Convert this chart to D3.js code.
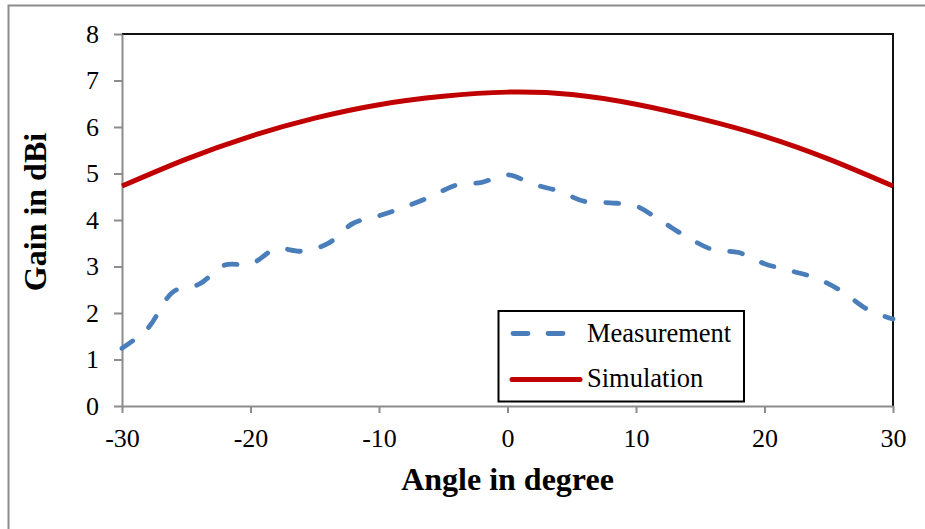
<!DOCTYPE html>
<html>
<head>
<meta charset="utf-8">
<script src="https://cdn.jsdelivr.net/npm/d3@7"></script>
<style>
body{margin:0;background:#fff}
text{font-family:"Liberation Serif","Times New Roman",serif;fill:#000}
</style>
</head>
<body>
<script>
const w=925
const h=529

// data
const angles=[-30,-28,-26,-24,-22,-20,-18,-16,-14,-12,-10,-8,-6,-4,-2,0,2,4,6,8,10,12,14,16,18,20,22,24,26,28,30]
const measurement=[1.24,1.67,2.46,2.62,3.03,3.05,3.38,3.33,3.49,3.93,4.09,4.28,4.50,4.75,4.81,4.97,4.77,4.62,4.40,4.37,4.30,3.97,3.63,3.36,3.30,3.06,2.91,2.75,2.47,2.08,1.87]
const simAngles=[-30,-25,-20,-15,-10,-5,0,5,10,15,20,25,30]
const simulation=[4.73,5.31,5.80,6.19,6.48,6.66,6.75,6.70,6.49,6.18,5.80,5.31,4.73]
const yTicks=[0,1,2,3,4,5,6,7,8]
const xTicks=[-30,-20,-10,0,10,20,30]
const seriesNames=["Measurement","Simulation"]

const x=d3.scaleLinear().domain([-30,30]).range([122,893])
const y=d3.scaleLinear().domain([0,8]).range([406,34])

const svg=d3.create("svg")
    .attr("width",w)
    .attr("height",h)

// outer frame
svg.append("rect")
    .attr("x",8.5).attr("y",5.5)
    .attr("width",1000).attr("height",1000)
    .attr("fill","none")
    .attr("stroke","#8c8c8c")
    .attr("stroke-width",2)

// black top/right border of the plot
svg.append("path")
    .attr("d",`M${x(-30)},${y(8)}H${x(30)}V${y(0)}`)
    .attr("fill","none")
    .attr("stroke","#111")
    .attr("stroke-width",2)

//axes
const gx=svg.append("g")
    .attr("transform",`translate(0,${y(0)})`)
    .call(d3.axisBottom(x).tickValues(xTicks).tickFormat(d=>String(d)).tickSize(7).tickSizeOuter(0).tickPadding(16))
const gy=svg.append("g")
    .attr("transform",`translate(${x(-30)},0)`)
    .call(d3.axisLeft(y).tickValues(yTicks).tickFormat(d=>String(d)).tickSize(8).tickSizeOuter(0).tickPadding(15))

for(const g of [gx,gy]){
    g.select(".domain").attr("stroke","#8c8c8c").attr("stroke-width",2)
    g.selectAll(".tick line").attr("stroke","#8c8c8c").attr("stroke-width",2)
    g.selectAll(".tick text")
        .attr("font-family","Liberation Serif")
        .attr("font-size",26)
        .attr("fill","#000")
}

//lines
const line=d3.line()
    .x(d=>x(d[0]))
    .y(d=>y(d[1]))

svg.append("path")
    .datum(simAngles.map((a,i)=>[a,simulation[i]]))
    .attr("d",line.curve(d3.curveNatural))
    .attr("fill","none")
    .attr("stroke","#c00000")
    .attr("stroke-width",5)

svg.append("path")
    .datum(angles.map((a,i)=>[a,measurement[i]]))
    .attr("d",line.curve(d3.curveCatmullRom.alpha(0.5)))
    .attr("fill","none")
    .attr("stroke","#4a7ebb")
    .attr("stroke-width",4.8)
    .attr("stroke-linecap","round")
    .attr("stroke-dasharray","13,21")

//axis titles
svg.append("text")
    .attr("x",507.5).attr("y",490)
    .attr("text-anchor","middle")
    .attr("font-size",32)
    .attr("font-weight","bold")
    .text("Angle in degree")

svg.append("text")
    .attr("transform","translate(46,212) rotate(-90)")
    .attr("text-anchor","middle")
    .attr("font-size",32)
    .attr("font-weight","bold")
    .text("Gain in dBi")

//legend
const lg=svg.append("g")
lg.append("rect")
    .attr("x",498.5).attr("y",311)
    .attr("width",245.5).attr("height",90.5)
    .attr("fill","#fff")
    .attr("stroke","#000")
    .attr("stroke-width",2)

lg.append("line")
    .attr("x1",513).attr("x2",565).attr("y1",333.5).attr("y2",333.5)
    .attr("stroke","#4a7ebb").attr("stroke-width",4.8)
    .attr("stroke-linecap","round")
    .attr("stroke-dasharray","15,20")
lg.append("line")
    .attr("x1",512).attr("x2",580).attr("y1",379.5).attr("y2",379.5)
    .attr("stroke","#c00000").attr("stroke-width",5)
    .attr("stroke-linecap","round")

lg.selectAll("text.lab")
    .data(seriesNames)
    .enter()
    .append("text")
    .attr("class","lab")
    .attr("x",587)
    .attr("y",(d,i)=>342+i*45)
    .attr("font-size",26.5)
    .text(d=>d)

d3.select("body").append(()=>svg.node())
</script>
</body>
</html>
